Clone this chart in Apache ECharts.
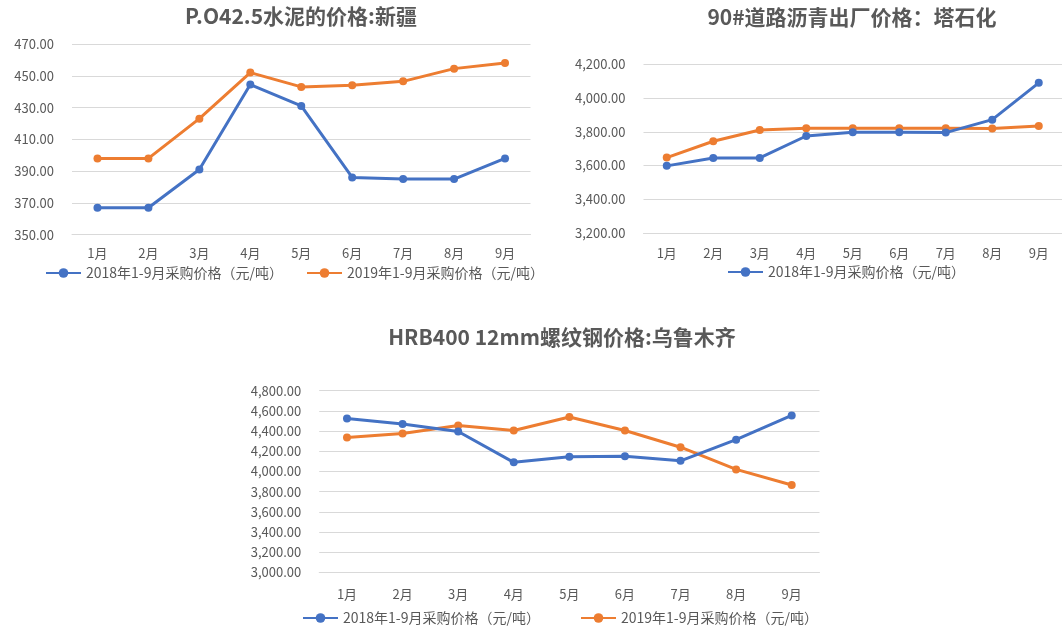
<!DOCTYPE html>
<html>
<head>
<meta charset="utf-8">
<script src="https://cdn.jsdelivr.net/npm/echarts@6/dist/echarts.min.js"></script>
<style>
html,body{margin:0;padding:0;background:#fff;}
#c{width:1062px;height:630px;}
</style>
</head>
<body>
<div id="c"></div>
<script>
var months = ['1月','2月','3月','4月','5月','6月','7月','8月','9月'];
var name2018 = '2018年1-9月采购价格（元/吨）';
var name2019 = '2019年1-9月采购价格（元/吨）';

var titleCement = 'P.O42.5水泥的价格:新疆';
var titleAsphalt = '90#道路沥青出厂价格：塔石化';
var titleRebar = 'HRB400 12mm螺纹钢价格:乌鲁木齐';

var cement2018 = [367, 367, 391, 444.5, 431, 386, 385, 385, 398];
var cement2019 = [398, 398, 423, 452, 443, 444, 446.5, 454.5, 458];
var asphalt2018 = [3598, 3645, 3645, 3775, 3797, 3797, 3795, 3872, 4090];
var asphalt2019 = [3647, 3744, 3811, 3821, 3821, 3821, 3821, 3820, 3834];
var rebar2018 = [4525, 4470, 4395, 4090, 4145, 4150, 4105, 4315, 4555];
var rebar2019 = [4335, 4375, 4455, 4405, 4540, 4405, 4240, 4020, 3865];

var cementAxis = [350, 470, 20];
var asphaltAxis = [3200, 4200, 200];
var rebarAxis = [3000, 4800, 200];

var BLUE = '#4472C4', ORANGE = '#ED7D31', TXT = '#595959', GRID = '#D9D9D9';
var FONT = "'Noto Sans CJK SC', 'Noto Sans', sans-serif";

function fmt2(v){ return v.toFixed(2); }
function fmtK(v){
  var s = v.toFixed(2).split('.');
  s[0] = s[0].replace(/\B(?=(\d{3})+(?!\d))/g, ',');
  return s.join('.');
}

function xAx(gi, margin){
  return {
    type:'category', gridIndex:gi, data:months, boundaryGap:true,
    axisTick:{show:false},
    axisLine:{show:true, lineStyle:{color:GRID, width:1}},
    axisLabel:{color:TXT, fontSize:13, fontFamily:FONT, margin:margin}
  };
}
function yAx(gi, ax, f){
  return {
    type:'value', gridIndex:gi, min:ax[0], max:ax[1], interval:ax[2],
    axisLine:{show:false}, axisTick:{show:false},
    splitLine:{show:true, lineStyle:{color:GRID, width:1}},
    axisLabel:{color:TXT, fontSize:13, fontFamily:FONT, margin:18, formatter:f}
  };
}
function ser(name, data, color, gi){
  return {
    type:'line', name:name, data:data, xAxisIndex:gi, yAxisIndex:gi,
    symbol:'circle', symbolSize:8, showSymbol:true,
    lineStyle:{color:color, width:3},
    itemStyle:{color:color},
    z: name === name2018 ? 3 : 2,
    animation:false
  };
}
function ttl(text, x, y){
  return {
    text:text, left:x, top:y, textAlign:'center', padding:0,
    textStyle:{color:TXT, fontSize:21, fontWeight:'bold', fontFamily:FONT}
  };
}
function leg(name, x, y){
  return {
    data:[name], left:x, top:y, padding:0, itemWidth:35, itemHeight:12, itemGap:0,
    textStyle:{color:TXT, fontSize:14, fontFamily:FONT}, selectedMode:false
  };
}

var chart = echarts.init(document.getElementById('c'));
chart.setOption({
  backgroundColor:'#fff',
  animation:false,
  title:[
    ttl(titleCement, 301, 6),
    ttl(titleAsphalt, 852, 7),
    ttl(titleRebar, 562, 327)
  ],
  legend:[
    leg(name2018, 45, 266),
    leg(name2019, 306, 266),
    leg(name2018, 727, 265),
    leg(name2018, 302, 611),
    leg(name2019, 580, 611)
  ],
  grid:[
    {left:72, right:531.5, top:44, bottom:395.3, containLabel:false},
    {left:643.5, right:-10, top:64.3, bottom:397, containLabel:false},
    {left:319.2, right:242.5, top:390.7, bottom:57.7, containLabel:false}
  ],
  xAxis:[xAx(0,12), xAx(1,13.5), xAx(2,15)],
  yAxis:[yAx(0,cementAxis,fmt2), yAx(1,asphaltAxis,fmtK), yAx(2,rebarAxis,fmtK)],
  series:[
    ser(name2018, cement2018, BLUE, 0),
    ser(name2019, cement2019, ORANGE, 0),
    ser(name2018, asphalt2018, BLUE, 1),
    ser(name2019, asphalt2019, ORANGE, 1),
    ser(name2018, rebar2018, BLUE, 2),
    ser(name2019, rebar2019, ORANGE, 2)
  ]
});
</script>
</body>
</html>
